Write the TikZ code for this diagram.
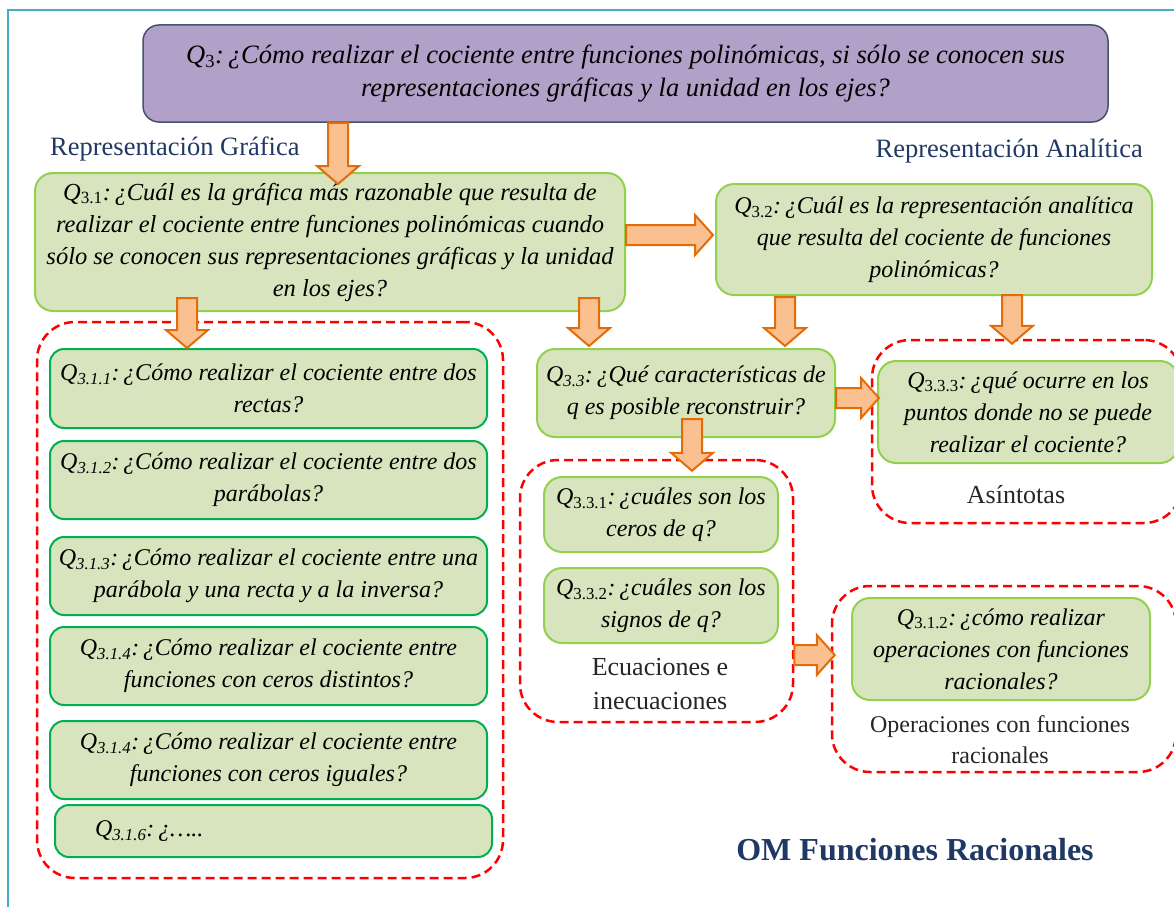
\documentclass[tikz,border=0pt]{standalone}
\usepackage{fontspec}
\setmainfont{Liberation Serif}
\usetikzlibrary{positioning,calc}
\definecolor{qpurple}{HTML}{B1A0C7}
\definecolor{qslate}{HTML}{44546A}
\definecolor{gfill}{HTML}{D7E4BD}
\definecolor{lgreen}{HTML}{92D050}
\definecolor{dgreen}{HTML}{00B050}
\definecolor{afill}{HTML}{FAC090}
\definecolor{aorange}{HTML}{E36C09}
\definecolor{dblue}{HTML}{1F3864}
\definecolor{fblue}{HTML}{4BACC6}
\definecolor{tgrey}{HTML}{262626}
\newcommand{\qfont}{\fontsize{24}{32}\selectfont\itshape}
\newcommand{\lfont}{\fontsize{26.5}{34}\selectfont}
\newcommand{\Qup}[1]{Q\textsubscript{\upshape #1}:\hspace{0.15em}}
\newcommand{\Qit}[1]{Q\textsubscript{#1}:\hspace{0.15em}}
\tikzstyle{pbox}=[rectangle, rounded corners=16pt, draw=qslate, fill=qpurple, line width=1.5pt, align=center, inner sep=0pt, font=\fontsize{26.5}{33}\selectfont\itshape]
\tikzstyle{gbox}=[rectangle, rounded corners=18pt, draw=lgreen, fill=gfill, line width=2pt, align=center, inner sep=0pt, font=\qfont]
\tikzstyle{sbox}=[gbox, draw=dgreen, rounded corners=14pt, minimum width=437pt, minimum height=78pt]
\tikzstyle{grp}=[rectangle, rounded corners=38pt, draw=red, line width=2.5pt, dash pattern=on 9pt off 5pt]
\tikzstyle{barrow}=[draw=aorange, fill=afill, line width=2pt]
\tikzstyle{rlabel}=[text=dblue, font=\lfont, inner sep=0pt]
\tikzstyle{glabel}=[text=tgrey, font=\fontsize{26}{34}\selectfont, align=center, inner sep=0pt]
% fat arrows: start point, tip
\newcommand{\fatdown}[2]{\draw[barrow] let \p1=(#1), \p2=(#2) in
  (\x1-10pt,\y1) -- (\x1+10pt,\y1) -- (\x1+10pt,\y2+18pt) -- (\x1+21pt,\y2+18pt)
  -- (\x1,\y2) -- (\x1-21pt,\y2+18pt) -- (\x1-10pt,\y2+18pt) -- cycle;}
\newcommand{\fatright}[2]{\draw[barrow] let \p1=(#1), \p2=(#2) in
  (\x1,\y1+10pt) -- (\x1,\y1-10pt) -- (\x2-18pt,\y1-10pt) -- (\x2-18pt,\y1-20pt)
  -- (\x2,\y1) -- (\x2-18pt,\y1+20pt) -- (\x2-18pt,\y1+10pt) -- cycle;}
\begin{document}
\begin{tikzpicture}[x=1pt, y=-1pt]
\useasboundingbox (0,0) rectangle (1174,907);
\draw[fblue, line width=1.5pt] (1174,10) -- (8,10) -- (8,907);
% groups
\node (grpGraf) [grp, minimum width=466pt, minimum height=556pt] at (270,600) {};
\node (grpEcu) [grp, minimum width=273pt, minimum height=262pt] at (656.5,591) {};
\node (grpAsin) [grp, minimum width=310pt, minimum height=183pt] at (1027,431.5) {};
\node (grpOper) [grp, minimum width=344pt, minimum height=186pt] at (1004,679) {};
% question boxes
\node (Q3) [pbox, minimum width=965pt, minimum height=97pt] at (625.5,73.5) {\Qup{3}¿Cómo realizar el cociente entre funciones polinómicas, si sólo se conocen sus\\representaciones gráficas y la unidad en los ejes?};
\node (Q31) [gbox, font=\fontsize{24.5}{32}\selectfont\itshape, minimum width=590pt, minimum height=138pt] at (330,242) {\Qup{3.1}¿Cuál es la gráfica más razonable que resulta de\\realizar el cociente entre funciones polinómicas cuando\\sólo se conocen sus representaciones gráficas y la unidad\\en los ejes?};
\node (Q32) [gbox, minimum width=436pt, minimum height=111pt] at (934,239.5) {\Qup{3.2}¿Cuál es la representación analítica\\que resulta del cociente de funciones\\polinómicas?};
\node (Q33) [gbox, minimum width=298pt, minimum height=88pt] at (686,393) {\Qit{3.3}¿Qué características de\\q es posible reconstruir?};
\node (Q333) [gbox, minimum width=300pt, minimum height=102pt] at (1028,412) {\Qup{3.3.3}¿qué ocurre en los\\puntos donde no se puede\\realizar el cociente?};
\node (Q331) [gbox, minimum width=234pt, minimum height=75pt] at (661,514.5) {\Qup{3.3.1}¿cuáles son los\\ceros de q?};
\node (Q332) [gbox, minimum width=234pt, minimum height=75pt, below=14pt of Q331] {\Qup{3.3.2}¿cuáles son los\\signos de q?};
\node (Q312b) [gbox, minimum width=298pt, minimum height=102pt] at (1001,649) {\Qup{3.1.2}¿cómo realizar\\operaciones con funciones\\racionales?};
\node (Q311) [sbox, minimum height=79pt] at (268.5,388.5) {\Qit{3.1.1}¿Cómo realizar el cociente entre dos\\rectas?};
\node (Q312) [sbox, below=11pt of Q311] {\Qit{3.1.2}¿Cómo realizar el cociente entre dos\\parábolas?};
\node (Q313) [sbox, below=16pt of Q312] {\Qit{3.1.3}¿Cómo realizar el cociente entre una\\parábola y una recta y a la inversa?};
\node (Q314) [sbox, below=10pt of Q313] {\Qit{3.1.4}¿Cómo realizar el cociente entre\\funciones con ceros distintos?};
\node (Q315) [sbox, below=14pt of Q314] {\Qit{3.1.4}¿Cómo realizar el cociente entre\\funciones con ceros iguales?};
\node (Q316) [sbox, minimum height=52pt, text width=357pt, align=left, inner xsep=40pt] at (273.5,831) {\Qit{3.1.6}¿…..};
% labels
\node (RG) [rlabel, anchor=base west] at (50,155) {Representación Gráfica};
\node (RA) [rlabel, anchor=base east] at (1143,157) {Representación Analítica};
\node (Ecu) [glabel] at (660,684) {Ecuaciones e\\inecuaciones};
\node (Asin) [glabel] at (1016,495) {Asíntotas};
\node (Oper) [glabel, font=\fontsize{24}{31}\selectfont] at (1000,740) {Operaciones con funciones\\racionales};
\node (OM) [text=dblue, font=\fontsize{32}{36}\selectfont\bfseries] at (915,850) {OM Funciones Racionales};
% arrows
\fatdown{Q3.south -| 338,0}{$(Q31.north -| 338,0)+(0,12)$}
\fatright{Q31.east |- 0,235}{$(Q32.west |- 0,235)+(-2,0)$}
\fatdown{$(Q31.south -| 187,0)+(0,-14)$}{Q311.north -| 187,0}
\fatdown{$(Q31.south -| 589,0)+(0,-14)$}{$(Q33.north -| 589,0)+(0,-2)$}
\fatdown{$(Q32.south -| 785,0)+(0,1)$}{$(Q33.north -| 785,0)+(0,-2)$}
\fatdown{$(Q32.south -| 1012,0)+(0,-1)$}{$(grpAsin.north -| 1012,0)+(0,5)$}
\fatright{Q33.east |- 0,398}{$(Q333.west |- 0,398)+(2,0)$}
\fatdown{$(Q33.south -| 692,0)+(0,-19)$}{$(grpEcu.north -| 692,0)+(0,12)$}
\fatright{grpEcu.east |- 0,655}{$(grpOper.west |- 0,655)+(4,0)$}
\end{tikzpicture}
\end{document}
